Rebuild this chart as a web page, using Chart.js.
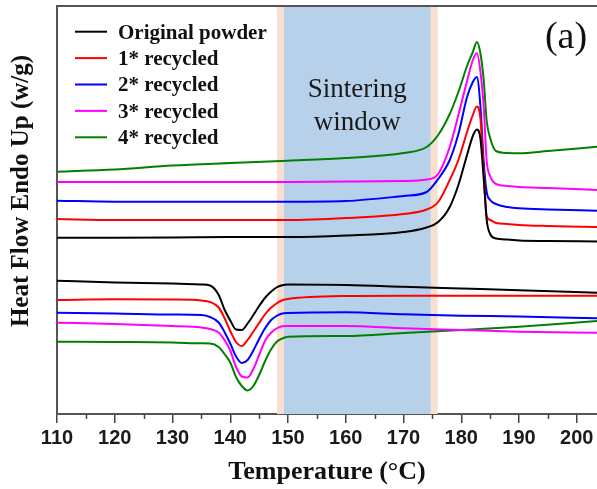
<!DOCTYPE html>
<html>
<head>
<meta charset="utf-8">
<script src="https://cdn.jsdelivr.net/npm/chart.js@4.4.1/dist/chart.umd.min.js"></script>
<style>
  html, body { margin: 0; padding: 0; background: #ffffff; }
  #wrap { width: 597px; height: 489px; }
</style>
</head>
<body>
<div id="wrap"><canvas id="c" width="597" height="489"></canvas></div>
<script>
// ---- Data (temperature in °C, heat flow in arbitrary units, endo up) ----
const seriesLabels = ['Original powder', '1* recycled', '2* recycled', '3* recycled', '4* recycled'];
const seriesColors = ['#000000', '#ff0000', '#0000ff', '#ff00ff', '#008000'];

// heating scan (melting peak)
const heatT = [110, 120, 130, 140, 150, 160, 170, 174, 176, 178, 179.5, 181, 182, 182.7, 183.3, 183.9, 184.4, 185, 186, 188, 190, 195, 203.5];
const heatOriginal = [176.3, 176.3, 176.5, 177, 177, 178.5, 182, 186.5, 192, 207, 229, 259, 278, 284.5, 276, 234, 194, 180, 175.5, 174.5, 173.5, 173, 172.5];
const heat1 = [195, 194, 194, 194, 194, 196, 200, 204.5, 212, 234, 254, 282, 299, 307.5, 296, 241, 198, 194, 191, 190, 189, 188, 187];
const heat2 = [213.3, 212.3, 212.3, 212.3, 212.3, 213, 218, 222, 235, 254, 280, 317, 332, 337, 309, 251, 222, 214, 210, 207, 205.7, 204.5, 203.3];
const heat3 = [232, 232, 232, 232, 232, 232.5, 233, 234.5, 240, 267, 299, 333, 354, 361, 343, 306, 253, 238, 230, 228, 227, 226, 224];
const heat4 = [242.3, 244.5, 248.5, 251, 253.3, 256, 261, 267, 279, 300, 322, 348, 362, 372, 361, 333, 293, 276, 263, 261, 260.7, 263, 267.3];

// cooling scan (crystallisation peak)
const coolT = [110, 120, 130, 135, 136.5, 138, 139, 140, 141, 142, 143, 144, 145, 146, 147, 148, 149, 150, 160, 170, 180, 190, 203.5];
const coolOriginal = [133.3, 131.5, 130.5, 129.5, 128.5, 119, 104.5, 93.5, 84.5, 84, 90.5, 99, 108, 116, 122, 126.5, 128.7, 129.5, 129, 127.3, 125.5, 123.7, 121.3];
const cool1 = [114, 114.7, 114.5, 113.5, 112, 106.5, 96, 83, 72, 68, 74, 82.5, 91, 99.5, 106, 110.5, 113.7, 115, 118, 118.3, 118.3, 118.3, 118.3];
const cool2 = [101.3, 100.5, 99.5, 99, 97, 91.5, 82, 70.5, 57.5, 51, 54, 63.5, 75, 85.5, 93.5, 98, 100.5, 101, 101.7, 99.7, 98.3, 97.5, 95.7];
const cool3 = [91.3, 90, 88, 86.5, 85, 81.5, 74, 63.5, 47, 37.5, 36.5, 45, 59, 73, 81, 85.5, 87.8, 88, 88, 85.7, 84, 82.3, 81.3];
const cool4 = [72.3, 72, 71.5, 70.7, 70.5, 67, 60, 51.5, 37, 28, 23.5, 28, 39, 52.5, 64, 72, 75.5, 77.3, 78, 81, 84, 87.3, 93];

// sintering window (°C) and its edge bands
const sinterWindow = [149.3, 174.7];
const sinterEdges = [148.1, 175.9];
const xTickValues = [110, 120, 130, 140, 150, 160, 170, 180, 190, 200];
const xMinorTicks = [115, 125, 135, 145, 155, 165, 175, 185, 195];

const heatSets = [heatOriginal, heat1, heat2, heat3, heat4];
const coolSets = [coolOriginal, cool1, cool2, cool3, cool4];

function buildPoints(h, c) {
  const pts = heatT.map((t, i) => ({ x: t, y: h[i] }));
  pts.push({ x: heatT[heatT.length - 1], y: null });
  coolT.forEach((t, i) => pts.push({ x: t, y: c[i] }));
  return pts;
}

const datasets = seriesLabels.map((lab, k) => ({
  label: lab,
  data: buildPoints(heatSets[k], coolSets[k]),
  borderColor: seriesColors[k],
  borderWidth: 2,
  pointRadius: 0,
  fill: false,
  spanGaps: false,
  cubicInterpolationMode: 'monotone'
}));

const SERIF = "'Liberation Serif', 'Times New Roman', serif";
const SANS = "'Liberation Sans', Arial, sans-serif";

const decor = {
  id: 'decor',
  beforeDraw(chart) {
    const ctx = chart.ctx;
    ctx.save();
    ctx.fillStyle = '#ffffff';
    ctx.fillRect(0, 0, chart.width, chart.height);
    ctx.restore();
  },
  beforeDatasetsDraw(chart) {
    const { ctx, chartArea: a, scales: { x } } = chart;
    ctx.save();
    const e0 = x.getPixelForValue(sinterEdges[0]);
    const e1 = x.getPixelForValue(sinterEdges[1]);
    const w0 = x.getPixelForValue(sinterWindow[0]);
    const w1 = x.getPixelForValue(sinterWindow[1]);
    ctx.fillStyle = '#f8dfcf';
    ctx.fillRect(e0, a.top, e1 - e0, a.bottom - a.top);
    ctx.fillStyle = '#b8d1ea';
    ctx.fillRect(w0, a.top, w1 - w0, a.bottom - a.top);
    ctx.fillStyle = '#1a1a1a';
    ctx.font = '27px ' + SERIF;
    ctx.textAlign = 'center';
    ctx.textBaseline = 'alphabetic';
    const cx = (w0 + w1) / 2;
    ctx.fillText('Sintering', cx, 97);
    ctx.fillText('window', cx, 130);
    ctx.restore();
  },
  afterDraw(chart) {
    const { ctx, chartArea: a, scales: { x } } = chart;
    ctx.save();
    ctx.strokeStyle = '#555555';
    ctx.lineWidth = 2;
    ctx.beginPath();
    ctx.moveTo(a.left, a.top);
    ctx.lineTo(a.right, a.top);
    ctx.stroke();
    ctx.lineWidth = 1.5;
    ctx.strokeStyle = '#444444';
    xMinorTicks.forEach(v => {
      const px = Math.round(x.getPixelForValue(v)) + 0.5;
      ctx.beginPath();
      ctx.moveTo(px, a.bottom);
      ctx.lineTo(px, a.bottom + 5);
      ctx.stroke();
    });
    const rowY0 = 31.7, rowStep = 26.4;
    ctx.font = 'bold 21px ' + SERIF;
    ctx.textAlign = 'left';
    ctx.textBaseline = 'alphabetic';
    seriesLabels.forEach((lab, k) => {
      const y = rowY0 + k * rowStep;
      ctx.strokeStyle = seriesColors[k];
      ctx.lineWidth = 2;
      ctx.beginPath();
      ctx.moveTo(75, y);
      ctx.lineTo(107, y);
      ctx.stroke();
      ctx.fillStyle = '#111111';
      ctx.fillText(lab, 118, y + 6.8);
    });
    ctx.font = '38px ' + SERIF;
    ctx.textAlign = 'center';
    ctx.fillStyle = '#111111';
    ctx.fillText('(a)', 566, 47.5);
    ctx.translate(22, 191);
    ctx.rotate(-Math.PI / 2);
    ctx.font = 'bold 25px ' + SERIF;
    ctx.textAlign = 'center';
    ctx.textBaseline = 'middle';
    ctx.fillStyle = '#111111';
    ctx.fillText('Heat Flow Endo Up (w/g)', 0, 0);
    ctx.restore();
  }
};

new Chart(document.getElementById('c'), {
  type: 'line',
  data: { datasets },
  options: {
    responsive: false,
    animation: false,
    devicePixelRatio: 1,
    layout: { padding: { top: 6, right: 0, bottom: 0, left: 0 } },
    plugins: {
      legend: { display: false },
      tooltip: { enabled: false }
    },
    scales: {
      x: {
        type: 'linear',
        min: 110,
        max: 203.5,
        afterFit(s) { s.height = 75; },
        afterBuildTicks(s) { s.ticks = xTickValues.map(v => ({ value: v })); },
        ticks: {
          autoSkip: false,
          includeBounds: false,
          maxRotation: 0,
          padding: 3,
          color: '#1a1a1a',
          font: { family: SANS, size: 20, weight: 'bold' },
          callback: (v) => String(v)
        },
        grid: { display: true, drawOnChartArea: false, drawTicks: true, tickLength: 9, color: '#444444', lineWidth: 1.5 },
        border: { display: true, color: '#555555', width: 2 },
        title: {
          display: true,
          text: 'Temperature (°C)',
          color: '#111111',
          font: { family: SERIF, size: 26, weight: 'bold', lineHeight: 1.25 },
          padding: { top: 0, bottom: 0 }
        }
      },
      y: {
        type: 'linear',
        min: 0,
        max: 408,
        afterFit(s) { s.width = 57; },
        ticks: { display: false },
        grid: { display: false },
        border: { display: true, color: '#555555', width: 2 }
      }
    }
  },
  plugins: [decor]
});
</script>
</body>
</html>
